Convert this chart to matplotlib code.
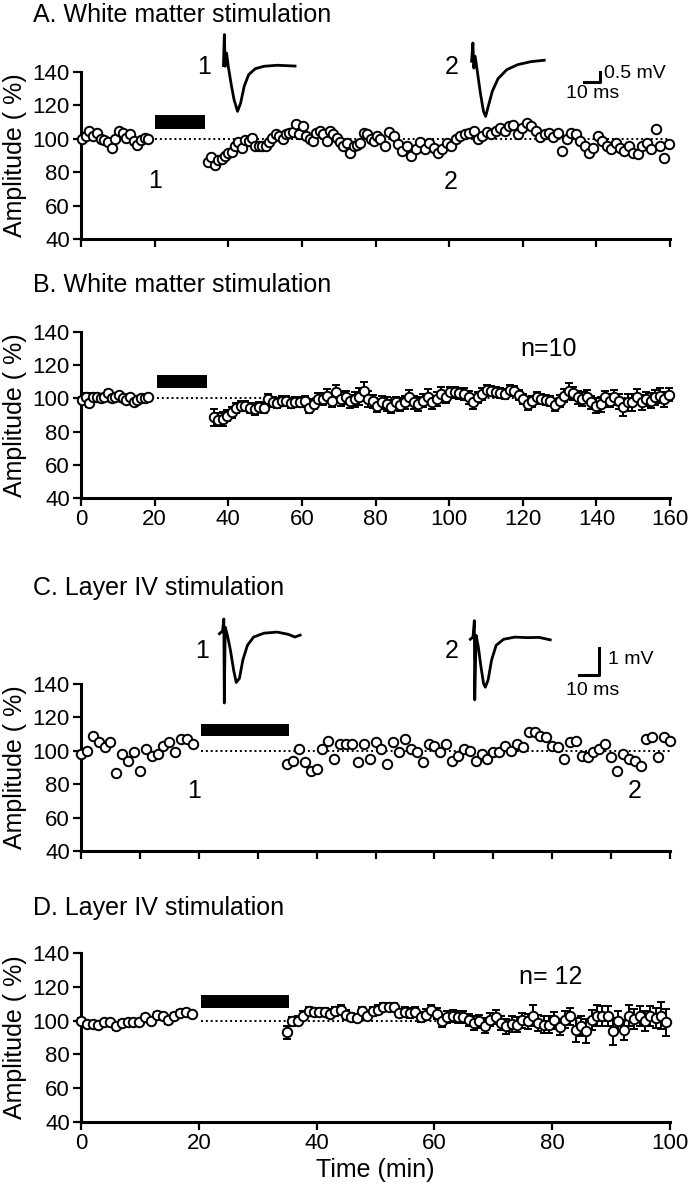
import numpy as np
import matplotlib
matplotlib.use("Agg")
import matplotlib.pyplot as plt

plt.rcParams["font.family"] = ["Liberation Sans", "DejaVu Sans"]

# ---- panel A: white matter, single cell ----
a_pre = [99.6, 101.6, 104.7, 101.6, 103.7, 100, 99, 98, 94.4, 99.6, 104.7, 103.3,
         100.6, 102.7, 98.6, 96.5, 99.2, 100.6, 99.6]
a_post_1 = [86.2, 89.3, 84.1, 87.6, 88.2, 89.7, 91.3, 92.3, 95.9, 97.9, 94.4, 99.2,
            98.6, 100.6, 95.9, 95.9, 95.5, 95.5, 97.9, 100.6, 103, 101.6, 99.6, 102.7,
            103.7, 104.1, 108.9, 102.7, 107.4, 101.6, 99.6, 98.6, 103.7, 104.7, 102.7,
            98.6, 104.7, 102.7, 100.6, 97.9, 95.5, 97.5, 91.3, 95.5, 96.5, 97.5, 103.7,
            102.7, 99.6, 98.6, 101.6]
a_post_2 = [99.6, 95.6, 104, 101.6, 96.6, 92.6, 95.6, 89.6, 94, 98, 93.6, 97.6, 94.6,
            91.6, 93.6, 97.6, 95.6, 100, 101.6, 102.6, 103.6, 104.6, 99.6, 101.6, 104,
            102.6, 104.6, 106.6, 104.6, 107.6, 108, 102.6, 106.6, 109.6, 107.6, 104.6,
            101.2, 102.6, 103.6, 101.2, 103.6, 92.6, 99.6, 103.6, 102.6, 98.6, 95.6,
            91.2, 94.6, 101.6, 98.6, 95.6, 93.6, 97.6, 94.6, 92.6, 95.6, 91.6, 90.6,
            95.6, 97.6, 93.6, 106, 95.6, 88.6, 96.6]

# ---- panel B: white matter, mean +- SEM (n=10) ----
b_pre = [99, 101, 97, 101, 101, 100, 101, 103, 100, 101, 102, 100, 99, 101, 98, 99,
         100, 100, 101]
b_pre_err = [2, 2, 2, 2, 1.5, 2, 1.5, 2, 2, 2, 1.5, 2, 2, 1.5, 2, 2, 1.5, 1.5, 1.5]
b_post = [88.6, 87.2, 87.6, 89.6, 91.6, 94.2, 95.6, 95.6, 94.2, 93.6, 94.6, 94.2,
          99.6, 97.6, 97, 98.2, 98.6, 97, 97.6, 97.6, 98.2, 94.2, 96.6, 99.6, 99.6,
          101.6, 98.6, 103.6, 99.6, 100.6, 98.2, 99.6, 101, 104.2, 99.6, 98.2, 95.6,
          97.6, 96.6, 95, 97.6, 96.2, 97.6, 100.6, 97.6, 96.6, 98.6, 101, 97.6, 99.6,
          102.6, 100.6, 103.6, 103.6, 103, 102.6, 100.6, 97.6, 100.6, 102.6, 105,
          104.2, 103.6, 103, 102.6, 105, 104.2, 102.2, 99.6, 96.6, 98.2, 100.6, 99.6,
          99, 98.2, 96.2, 98.6, 101.6, 104.6, 103, 100.6, 99.6, 101, 97.6, 95.6, 96.6,
          100.6, 98.6, 100.6, 98.2, 94.6, 97.6, 97.6, 101, 97.6, 99.6, 98.6, 100.6,
          101.6, 99.6, 102.2]
b_post_err = [5, 4, 4, 3.5, 3.5, 3, 3, 3, 3, 3.5, 3, 3, 3, 3, 3, 3, 3, 3, 3, 3, 3,
              3, 3, 3.5, 3.5, 4, 4, 4.5, 4, 4, 4, 4.5, 5, 5.5, 5, 4, 4, 4, 4, 4, 3.5,
              4, 4, 4.5, 4, 4, 4, 4.5, 4, 4, 4, 3.5, 3.5, 3.5, 3.5, 3.5, 4, 4, 3.5,
              3.5, 3, 3, 3, 3, 3, 3, 3, 3, 3, 3.5, 3.5, 3, 3, 3, 3, 3.5, 3.5, 4, 4.5,
              4, 4, 4, 4, 4, 4.5, 4.5, 4, 4, 4.5, 4.5, 5, 5, 5, 4.5, 4.5, 4, 4.5, 4.5,
              4.5, 4.5, 4]

# ---- panel C: layer IV, single cell ----
c_pre = [98, 100, 109, 105, 102, 105, 87, 98, 94, 99, 88, 101, 97, 98, 103, 105,
         99, 107, 107, 104]
c_post = [92, 94, 101, 93, 88, 89, 101, 106, 95, 104, 104, 104, 93, 104, 95, 105,
          101, 92, 105, 99, 107, 101, 99, 93, 104, 103, 99, 104, 94, 97, 101, 100, 94,
          98, 95, 99, 99, 103, 100, 104, 102, 111, 111, 109, 108, 103, 102, 95, 105,
          106, 97, 96, 99, 101, 104, 96, 88, 98, 95, 94, 91, 107, 108, 96, 108, 106]

# ---- panel D: layer IV, mean +- SEM (n=12) ----
d_pre = [100, 98, 98.2, 97.2, 99, 99, 96.6, 98.6, 99, 99.2, 99.2, 102.2, 99.6,
         103.6, 102.6, 100.2, 103, 104.6, 105.1, 104.2]
d_pre_err = [1.5, 2, 1.5, 1.5, 1.5, 1.5, 2, 1.5, 1.5, 1.5, 1.5, 1.5, 1.5, 1.5, 1.5,
             2, 1.5, 1.5, 1.5, 1.5]
d_post = [93.1, 99.6, 100, 103, 105.5, 105.1, 105, 105, 104.2, 105.5, 106.5, 103.6,
          102, 101.6, 105.5, 102.6, 105.5, 106.5, 108.1, 108.1, 108.1, 104.6, 105.1,
          104.6, 105, 102.2, 103.6, 106.1, 104.2, 100, 102, 102.6, 102.2, 102.2,
          100.6, 98.6, 99.6, 97, 100.6, 102.2, 98.6, 96.6, 98, 97.6, 100.2, 99.6, 103,
          98.6, 97.6, 97.6, 100.2, 96.2, 100.6, 102.6, 94.6, 96.6, 93.7, 100.2, 103,
          102.6, 102.6, 93.7, 99.6, 94.6, 103, 101, 102.6, 99.6, 102.6, 101.6, 103, 99]
d_post_err = [4, 2.5, 2.5, 2.5, 2.5, 2.5, 2.5, 2.5, 2.5, 2.5, 2.5, 2.5, 2.5, 2.5,
              2.5, 2.5, 2.5, 2.5, 2.5, 2.5, 2.5, 2.5, 3, 3, 3, 3, 3, 3, 3, 3.5, 3.5,
              3.5, 3.5, 3.5, 3.5, 4, 4, 4.5, 4, 4, 4, 4.5, 4.5, 4.5, 4.5, 4.5, 6, 5, 5,
              5, 5, 5, 5, 5, 7, 6, 7, 6, 6, 6, 6, 8, 6, 6, 6, 6, 6, 6, 6, 6, 8, 8]

# ---- example EPSP traces (ms, mV rel. to baseline) ----
trA1_ms = [0, 0.57, 1.14, 2.0, 3.1, 4.85, 6.85, 9.1, 11.1, 13.4, 16.3, 20.6, 26.3, 34.8, 46.3]
trA1_mv = [0, 1.55, -0.03, 0.63, -0.03, -0.87, -1.7, -2.28, -1.87, -1.03, -0.45, -0.15, -0.03, 0.02, -0.02]
trA2_ms = [0, 0.86, 1.43, 2.3, 3.7, 5.7, 7.7, 9.1, 10.8, 13.4, 17.1, 22.8, 29.8, 38.4, 47]
trA2_mv = [-0.03, 0.88, -0.37, 0.22, -0.53, -1.62, -2.53, -2.78, -2.28, -1.53, -0.9, -0.45, -0.2, -0.05, 0.02]
trC1_ms = [0, 1.55, 2.2, 2.44, 2.9, 4.0, 5.5, 7.1, 8.4, 10.0, 11.7, 14.0, 17.1, 22.2, 28.8, 34.3, 37.7, 40.3]
trC1_mv = [0, 0.1, 0.54, -2.53, 0.24, -0.06, -0.6, -1.33, -1.78, -1.63, -0.96, -0.42, -0.12, 0.02, 0.06, -0.02, -0.12, -0.05]
trC2_ms = [0, 1.33, 2.0, 2.2, 2.9, 4.0, 5.3, 6.6, 7.5, 8.9, 10.6, 12.9, 16.6, 22.2, 28.8, 34.3, 39.9]
trC2_mv = [-0.02, 0.06, 0.66, -2.23, 0.12, -0.3, -1.02, -1.63, -1.77, -1.5, -0.78, -0.24, -0.02, 0.06, 0.04, 0.05, -0.04]

W, H = 688, 1199
fig = plt.figure(figsize=(W / 100, H / 100), dpi=100)
TICK_FS = 16
LAB_FS = 18
TXT_FS = 18
SMALL_FS = 14


def make_axes(top, bottom, xmax, xstep, labels):
    ax = fig.add_axes([81 / W, 1 - bottom / H, 589 / W, (bottom - top) / H])
    ax.set_xlim(0, xmax)
    ax.set_ylim(40, 140)
    ax.set_yticks(range(40, 141, 20))
    ax.set_xticks(np.arange(0, xmax + 1, xstep))
    for s in ("top", "right"):
        ax.spines[s].set_visible(False)
    for s in ("left", "bottom"):
        ax.spines[s].set_linewidth(2.2)
    ax.tick_params(direction="out", length=6, width=1.6, labelsize=TICK_FS, pad=2)
    if not labels:
        ax.set_xticklabels([])
    ax.set_ylabel("Amplitude ( %)", fontsize=LAB_FS)
    ax.yaxis.set_label_coords(-0.092, 0.5)
    return ax


def drug_bar(ax, x0, x1, y0, y1, xend):
    ax.fill_between([x0, x1], y0, y1, color="black", lw=0)
    ax.plot([x0, xend], [100, 100], ls=(0, (1, 1.5)), color="black", lw=1.4, zorder=1)


def trace(ax, ms, mv, x0, y0, ms_scale, mv_scale):
    x = x0 + np.array(ms) * ms_scale
    y = y0 + np.array(mv) * mv_scale
    ax.plot(x, y, color="black", lw=2, clip_on=False, solid_joinstyle="round")


def scale_bar(ax, x0, x1, y0, y1):
    ax.plot([x0, x1, x1], [y0, y0, y1], color="black", lw=2.2, clip_on=False)


mk = dict(marker="o", ms=6.8, mfc="white", mec="black", mew=1.4, ls="none", clip_on=False, zorder=3)
eb = dict(fmt="o", ms=6.8, mfc="white", mec="black", mew=1.4, ecolor="black",
          elinewidth=1.4, capsize=3, capthick=1.4, clip_on=False, zorder=3)

# A
axA = make_axes(72, 239, 160, 20, False)
drug_bar(axA, 20, 33.8, 106, 114, 160)
axA.plot(np.arange(0.3, 19.3, 1.0), a_pre, **mk)
a_t = np.concatenate([np.linspace(34.5, 80.5, len(a_post_1)),
                      np.linspace(81.3, 159.7, len(a_post_2))])
axA.plot(a_t, a_post_1 + a_post_2, **mk)
axA.text(20, 75, "1", fontsize=TXT_FS, ha="center", va="center")
axA.text(100.5, 74, "2", fontsize=TXT_FS, ha="center", va="center")
axA.text(33.5, 143, "1", fontsize=TXT_FS, ha="center", va="center", clip_on=False)
axA.text(100.7, 143, "2", fontsize=TXT_FS, ha="center", va="center", clip_on=False)
trace(axA, trA1_ms, trA1_mv, 38.7, 143.8, 0.42, 12)
trace(axA, trA2_ms, trA2_mv, 106.1, 146.8, 0.42, 12)
scale_bar(axA, 136.7, 141, 134.2, 140.2)
axA.text(142.2, 139, "0.5 mV", fontsize=SMALL_FS, ha="left", va="center")
axA.text(139, 127.4, "10 ms", fontsize=SMALL_FS, ha="center", va="center")

# B
axB = make_axes(332, 498, 160, 20, True)
drug_bar(axB, 20.6, 34.2, 106.3, 114, 160)
axB.errorbar(np.arange(0.3, 19.3, 1.0), b_pre, yerr=b_pre_err, **eb)
axB.errorbar(np.linspace(36, 159.7, len(b_post)), b_post, yerr=b_post_err, **eb)
axB.text(127, 130, "n=10", fontsize=TXT_FS, ha="center", va="center")

# C
axC = make_axes(684, 851, 100, 10, False)
drug_bar(axC, 20.3, 35.3, 109, 116, 100)
axC.plot(np.arange(0, 20), c_pre, **mk)
axC.plot(np.arange(35, 35 + len(c_post)), c_post, **mk)
axC.text(19.2, 76, "1", fontsize=TXT_FS, ha="center", va="center")
axC.text(94, 76, "2", fontsize=TXT_FS, ha="center", va="center")
axC.text(20.5, 160, "1", fontsize=TXT_FS, ha="center", va="center", clip_on=False)
axC.text(62.9, 160, "2", fontsize=TXT_FS, ha="center", va="center", clip_on=False)
trace(axC, trC1_ms, trC1_mv, 23.5, 170.1, 0.34, 16.4)
trace(axC, trC2_ms, trC2_mv, 66.1, 167.1, 0.34, 16.4)
scale_bar(axC, 84.5, 87.9, 145.3, 161.8)
axC.text(89.4, 154.7, "1 mV", fontsize=SMALL_FS, ha="left", va="center")
axC.text(86.8, 136.4, "10 ms", fontsize=SMALL_FS, ha="center", va="center")

# D
axD = make_axes(953, 1122, 100, 20, True)
drug_bar(axD, 20.3, 35.3, 107.5, 115, 100)
axD.errorbar(np.linspace(0, 18.8, len(d_pre)), d_pre, yerr=d_pre_err, **eb)
axD.errorbar(np.linspace(35, 99.4, len(d_post)), d_post, yerr=d_post_err, **eb)
axD.text(79.8, 126, "n= 12", fontsize=TXT_FS, ha="center", va="center")
axD.set_xlabel("Time (min)", fontsize=TXT_FS, labelpad=3)

titles = [("A. White matter stimulation", 15), ("B. White matter stimulation", 285),
          ("C. Layer IV stimulation", 588), ("D. Layer IV stimulation", 908)]
for txt, y in titles:
    fig.text(33 / W, 1 - y / H, txt, fontsize=18, ha="left", va="center")

fig.savefig("out.png", dpi=100)
